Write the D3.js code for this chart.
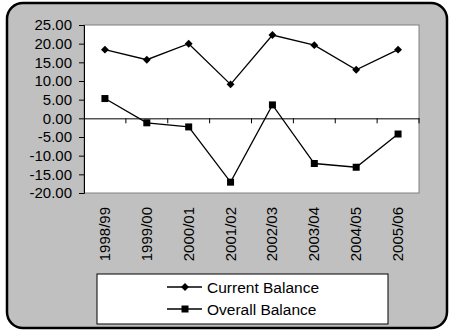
<!DOCTYPE html>
<html>
<head>
<meta charset="utf-8">
<script src="https://cdn.jsdelivr.net/npm/d3@7"></script>
<style>
  body { margin: 0; background: #fff; }
  text { font-family: "Liberation Sans", Arial, sans-serif; fill: #000; }
</style>
</head>
<body>
<svg id="chart" width="451" height="333"></svg>
<script>
const years = ['1998/99', '1999/00', '2000/01', '2001/02', '2002/03', '2003/04', '2004/05', '2005/06'];
const currentBalance = [18.4, 15.7, 20.0, 9.1, 22.3, 19.6, 13.0, 18.4];
const overallBalance = [5.3, -1.2, -2.3, -17.1, 3.6, -12.1, -13.1, -4.2];
const yTicks = [-20, -15, -10, -5, 0, 5, 10, 15, 20, 25];

const svg = d3.select('#chart');
const plot = { left: 84, top: 25, right: 419, bottom: 193 };

// Outer rounded frame
svg.append('rect')
  .attr('x', 7).attr('y', 3)
  .attr('width', 440).attr('height', 325)
  .attr('rx', 16)
  .attr('fill', '#c0c0c0')
  .attr('stroke', '#000')
  .attr('stroke-width', 2.5);

const x = d3.scaleBand().domain(years).range([plot.left, plot.right]);
const y = d3.scaleLinear().domain([-20, 25]).range([plot.bottom, plot.top]);

// Plot area
svg.append('rect')
  .attr('x', plot.left).attr('y', plot.top)
  .attr('width', plot.right - plot.left).attr('height', plot.bottom - plot.top)
  .attr('fill', '#fff')
  .attr('stroke', '#808080')
  .attr('stroke-width', 1);

// Y axis
const yAxis = svg.append('g')
  .attr('transform', `translate(${plot.left},0)`)
  .call(d3.axisLeft(y).tickValues(yTicks).tickSize(5).tickPadding(7));
yAxis.select('.domain').attr('stroke', '#000');
yAxis.selectAll('.tick line').attr('stroke', '#000');
yAxis.selectAll('text').style('font-size', '15px').attr('fill', '#000')
  .text((d) => d3.format('.2f')(d).replace('−', '-'));

// Zero line with category ticks
const xAxis = svg.append('g')
  .attr('transform', `translate(0,${y(0)})`)
  .call(d3.axisBottom(x).tickSize(0).tickFormat(''));
xAxis.select('.domain').attr('stroke', '#000');
svg.append('g')
  .selectAll('line')
  .data(years)
  .join('line')
  .attr('x1', (d) => x(d) + x.bandwidth())
  .attr('x2', (d) => x(d) + x.bandwidth())
  .attr('y1', y(0))
  .attr('y2', y(0) + 5)
  .attr('stroke', '#000');

// Category labels (rotated) below plot
svg.append('g')
  .selectAll('text')
  .data(years)
  .join('text')
  .attr('transform', (d) => `translate(${x(d) + x.bandwidth() / 2 + 5},207) rotate(-90)`)
  .attr('text-anchor', 'end')
  .style('font-size', '15px')
  .text((d) => d);

const line = d3.line()
  .x((d, i) => x(years[i]) + x.bandwidth() / 2)
  .y((d) => y(d));

const diamond = d3.symbol().type(d3.symbolDiamond2).size(40);

function drawSeries(values, marker) {
  const g = svg.append('g');
  g.append('path')
    .datum(values)
    .attr('d', line)
    .attr('fill', 'none')
    .attr('stroke', '#000')
    .attr('stroke-width', 1.3);
  if (marker === 'diamond') {
    g.selectAll('path.m')
      .data(values)
      .join('path')
      .attr('class', 'm')
      .attr('d', diamond)
      .attr('transform', (d, i) => `translate(${x(years[i]) + x.bandwidth() / 2},${y(d)})`)
      .attr('fill', '#000');
  } else {
    g.selectAll('rect.m')
      .data(values)
      .join('rect')
      .attr('class', 'm')
      .attr('x', (d, i) => x(years[i]) + x.bandwidth() / 2 - 3.5)
      .attr('y', (d) => y(d) - 3.5)
      .attr('width', 7).attr('height', 7)
      .attr('fill', '#000');
  }
}

drawSeries(currentBalance, 'diamond');
drawSeries(overallBalance, 'square');

// Legend
const legend = svg.append('g');
legend.append('rect')
  .attr('x', 97).attr('y', 274)
  .attr('width', 291).attr('height', 50)
  .attr('fill', '#fff')
  .attr('stroke', '#000')
  .attr('stroke-width', 1);

const legendItems = [
  { label: 'Current Balance', marker: 'diamond', y: 287 },
  { label: 'Overall Balance', marker: 'square', y: 309 },
];
legendItems.forEach((it) => {
  legend.append('line')
    .attr('x1', 167).attr('x2', 202)
    .attr('y1', it.y).attr('y2', it.y)
    .attr('stroke', '#000').attr('stroke-width', 1.3);
  if (it.marker === 'diamond') {
    legend.append('path').attr('d', diamond).attr('transform', `translate(185,${it.y})`).attr('fill', '#000');
  } else {
    legend.append('rect').attr('x', 181.5).attr('y', it.y - 3.5).attr('width', 7).attr('height', 7).attr('fill', '#000');
  }
  legend.append('text')
    .attr('x', 207).attr('y', it.y + 5.5)
    .style('font-size', '15.5px')
    .text(it.label);
});
</script>
</body>
</html>
